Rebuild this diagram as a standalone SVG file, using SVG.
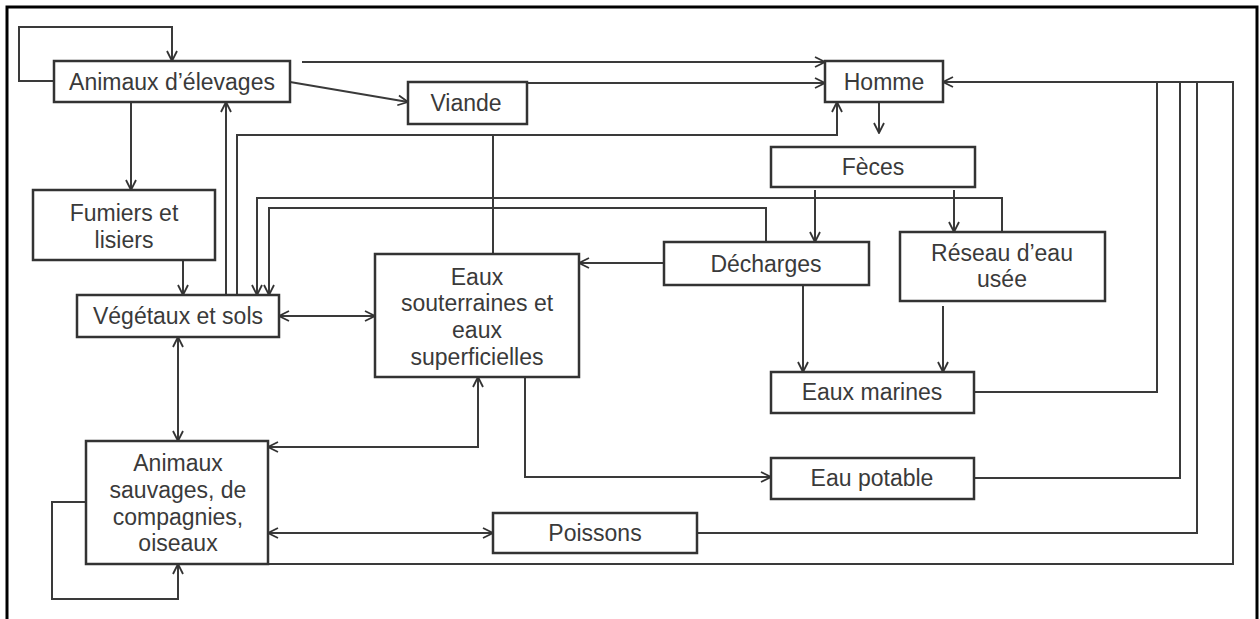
<svg xmlns="http://www.w3.org/2000/svg" width="1260" height="619" viewBox="0 0 1260 619">
<style>
.box{fill:#fff;stroke:#333;stroke-width:2.5}
.t{font-family:"Liberation Sans",Arial,sans-serif;font-size:23px;fill:#3a3a3a;text-anchor:middle;dominant-baseline:central}
.c{fill:none;stroke:#3a3a3a;stroke-width:2}
.a{marker-end:url(#ah)}
.b{marker-start:url(#ah);marker-end:url(#ah)}
</style>
<defs>
<marker id="ah" viewBox="0 0 12 12" refX="11" refY="6" markerWidth="12" markerHeight="12" markerUnits="userSpaceOnUse" orient="auto-start-reverse">
<path d="M1,1 L11,6 L1,11" fill="none" stroke="#333" stroke-width="1.8"/>
</marker>
</defs>
<rect width="1260" height="619" fill="#fff"/>
<path d="M7,619 V7 H1257 V619" fill="none" stroke="#000" stroke-width="3"/>
<g id="connectors">
<path class="c a" d="M54,81 H19 V27 H172 V61"/>
<path class="c a" d="M131,102 V190"/>
<path class="c a" d="M302,62 H825"/>
<path class="c a" d="M290,82 L408,102"/>
<path class="c a" d="M527,83 H825"/>
<path class="c" d="M974,392 H1157 V82"/>
<path class="c" d="M974,478 H1180 V82"/>
<path class="c" d="M697,533 H1197 V82"/>
<path class="c a" d="M268,564 H1233 V82 H943"/>
<path class="c a" d="M879,102 V133"/>
<path class="c a" d="M815,190 V242"/>
<path class="c a" d="M954,190 V232"/>
<path class="c a" d="M1002,232 V198 H257 V295"/>
<path class="c a" d="M766,242 V208 H269 V295"/>
<path class="c a" d="M664,263 H579"/>
<path class="c a" d="M803,285 V372"/>
<path class="c a" d="M943,306 V372"/>
<path class="c a" d="M226,295 V102"/>
<path class="c a" d="M237,295 V135 H837 V102"/>
<path class="c" d="M493,254 V135"/>
<path class="c a" d="M183,258 V295"/>
<path class="c b" d="M279,316 H375"/>
<path class="c b" d="M178,337 V441"/>
<path class="c b" d="M268,447 H478 V377"/>
<path class="c a" d="M525,377 V477 H771"/>
<path class="c b" d="M268,533 H493"/>
<path class="c a" d="M86,502 H52 V599 H178 V564"/>
</g>
<g id="animaux-elevages"><rect class="box" x="54" y="61" width="236" height="41"/><text class="t" x="172" y="82">Animaux d’élevages</text></g>
<g id="viande"><rect class="box" x="408" y="82" width="119" height="42"/><text class="t" x="466" y="103">Viande</text></g>
<g id="homme"><rect class="box" x="825" y="61" width="118" height="41"/><text class="t" x="884" y="82">Homme</text></g>
<g id="feces"><rect class="box" x="771" y="147" width="204" height="40"/><text class="t" x="873" y="167">Fèces</text></g>
<g id="fumiers"><rect class="box" x="33" y="190" width="182" height="70"/><text class="t" x="124" y="213">Fumiers et</text><text class="t" x="124" y="240">lisiers</text></g>
<g id="decharges"><rect class="box" x="664" y="242" width="205" height="43"/><text class="t" x="766" y="264">Décharges</text></g>
<g id="reseau"><rect class="box" x="900" y="232" width="205" height="69"/><text class="t" x="1002" y="253">Réseau d’eau</text><text class="t" x="1002" y="279">usée</text></g>
<g id="vegetaux"><rect class="box" x="77" y="295" width="202" height="42"/><text class="t" x="178" y="316">Végétaux et sols</text></g>
<g id="eaux"><rect class="box" x="375" y="254" width="204" height="123"/><text class="t" x="477" y="277">Eaux</text><text class="t" x="477" y="303">souterraines et</text><text class="t" x="477" y="330">eaux</text><text class="t" x="477" y="357">superficielles</text></g>
<g id="eaux-marines"><rect class="box" x="771" y="372" width="203" height="41"/><text class="t" x="872" y="392">Eaux marines</text></g>
<g id="eau-potable"><rect class="box" x="771" y="458" width="203" height="41"/><text class="t" x="872" y="478">Eau potable</text></g>
<g id="animaux-sauvages"><rect class="box" x="86" y="441" width="182" height="123"/><text class="t" x="178" y="463">Animaux</text><text class="t" x="178" y="490">sauvages, de</text><text class="t" x="178" y="517">compagnies,</text><text class="t" x="178" y="543">oiseaux</text></g>
<g id="poissons"><rect class="box" x="493" y="513" width="204" height="40"/><text class="t" x="595" y="533">Poissons</text></g>
</svg>
